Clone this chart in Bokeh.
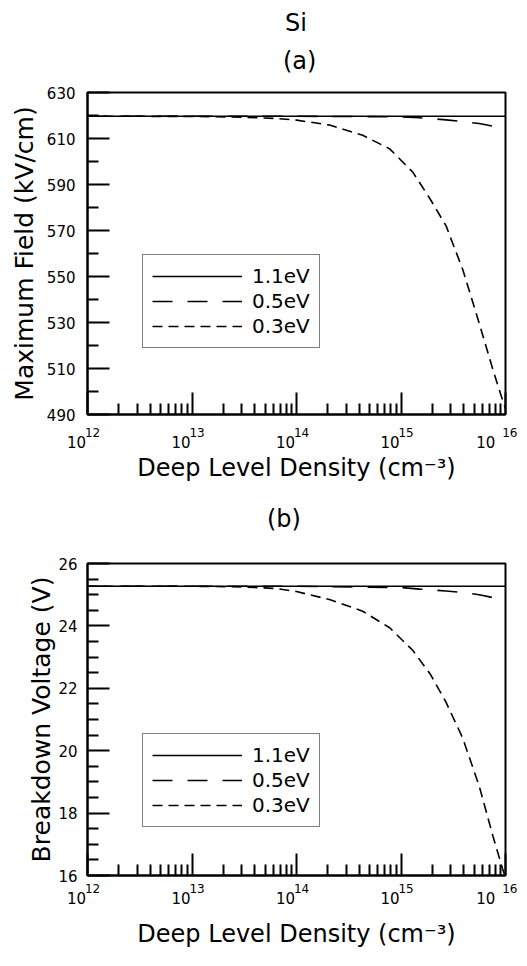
from bokeh.plotting import figure
from bokeh.layouts import column
from bokeh.models import (FixedTicker, Legend, LegendItem, CustomJSTickFormatter,
                          Range1d, LogAxis, Div)
from bokeh.embed import file_html
from bokeh.resources import INLINE

# ---------------- data ----------------
decade_exponents = [12, 13, 14, 15, 16]

density_11 = [1e12, 1e16]
field_11 = [619.7, 619.7]
volt_11 = [25.27, 25.27]

density_05 = [1e12, 1e13, 1e14, 1e15, 1.5e15, 2e15, 2.7e15, 4e15, 5.6e15, 7.5e15, 9e15, 1e16]
field_05 = [619.7, 619.7, 619.7, 619.4, 619.0, 618.6, 618.1, 617.3, 616.5, 615.4, 614.7, 614.3]
volt_05 = [25.27, 25.27, 25.27, 25.23, 25.18, 25.15, 25.12, 25.07, 25.0, 24.91, 24.85, 24.8]

density_03 = [1e12, 1e13, 3e13, 6.4e13, 1e14, 2.1e14, 4.3e14, 7.8e14, 1.3e15, 1.9e15,
              2.7e15, 3.9e15, 5.6e15, 7.6e15, 9.4e15, 1e16]
field_03 = [619.7, 619.6, 619.3, 618.7, 618.0, 615.8, 611.4, 605.5, 595.3, 583.7,
            572.0, 553.0, 529.7, 509.3, 496.1, 492.5]
volt_03 = [25.27, 25.27, 25.25, 25.2, 25.1, 24.84, 24.47, 23.94, 23.21, 22.46,
           21.55, 20.4, 18.87, 17.25, 16.2, 15.95]

field_ticks = [490, 510, 530, 550, 570, 590, 610, 630]
field_minor = [500, 520, 540, 560, 580, 600, 620]
volt_ticks = [16, 18, 20, 22, 24, 26]
volt_minor = [16.5, 17, 17.5, 18.5, 19, 19.5, 20.5, 21, 21.5, 22.5, 23, 23.5, 24.5, 25, 25.5]

series_labels = ["1.1eV", "0.5eV", "0.3eV"]
main_title = "Si"
panel_titles = ["(a)", "(b)"]
x_label = "Deep Level Density (cm\u207b\u00b3)"
y_labels = ["Maximum Field (kV/cm)", "Breakdown Voltage (V)"]

FONT = "DejaVu Sans"
W = 517

# exponent of each decade tick, drawn as a raised label right of the "10"
EXP_JS = r"""return "\u2007\u2009" + String(Math.round(Math.log10(tick)));"""
BASE_JS = r"""return "10\u2007\u2007\u2009";"""

decade_ticks = [float(10 ** e) for e in decade_exponents]
decade_minor = [float(k * 10 ** e) for e in decade_exponents[:-1] for k in range(2, 10)]


def make_panel(height, mb_left, mb_top, mb_bottom, ylo, yhi, yt, ym, ylab,
               v_list, legend_loc, ylab_standoff, ytick_standoff,
               exp_standoff, base_standoff, xlab_standoff):
    p = figure(width=W, height=height, x_axis_type="log",
               x_range=Range1d(1e12, 1e16), y_range=Range1d(ylo, yhi),
               output_backend="svg", toolbar_location=None,
               min_border_left=mb_left, min_border_right=W - mb_left - 421,
               min_border_top=mb_top, min_border_bottom=mb_bottom)
    p.title = None
    p.grid.visible = False
    p.outline_line_color = "black"
    p.outline_line_width = 2
    p.background_fill_color = "white"
    p.border_fill_color = "white"

    # x axis: ticks + exponent labels
    xa = p.xaxis[0]
    xa.ticker = FixedTicker(ticks=decade_ticks, minor_ticks=decade_minor)
    xa.formatter = CustomJSTickFormatter(code=EXP_JS)
    xa.major_label_text_font = FONT
    xa.major_label_text_font_size = "12px"
    xa.major_label_text_color = "black"
    xa.major_label_standoff = exp_standoff
    xa.major_tick_in = 22
    xa.major_tick_out = 0
    xa.minor_tick_in = 11
    xa.minor_tick_out = 0
    xa.major_tick_line_width = 2
    xa.minor_tick_line_width = 2
    xa.axis_line_width = 2

    # second x axis: the "10" of each decade label, plus the axis title
    xb = LogAxis(ticker=FixedTicker(ticks=decade_ticks, minor_ticks=[]),
                 formatter=CustomJSTickFormatter(code=BASE_JS))
    xb.axis_line_color = None
    xb.major_tick_line_color = None
    xb.minor_tick_line_color = None
    xb.major_tick_in = 0
    xb.major_tick_out = 0
    xb.major_label_text_font = FONT
    xb.major_label_text_font_size = "15px"
    xb.major_label_text_color = "black"
    xb.major_label_standoff = base_standoff
    xb.axis_label = x_label
    xb.axis_label_text_font = FONT
    xb.axis_label_text_font_style = "normal"
    xb.axis_label_text_font_size = "24px"
    xb.axis_label_text_color = "black"
    xb.axis_label_standoff = xlab_standoff
    p.add_layout(xb, "below")

    # y axis
    ya = p.yaxis[0]
    ya.ticker = FixedTicker(ticks=yt, minor_ticks=ym)
    ya.major_tick_in = 22
    ya.major_tick_out = 0
    ya.minor_tick_in = 11
    ya.minor_tick_out = 0
    ya.major_tick_line_width = 2
    ya.minor_tick_line_width = 2
    ya.axis_line_width = 2
    ya.major_label_text_font = FONT
    ya.major_label_text_font_size = "15px"
    ya.major_label_text_color = "black"
    ya.major_label_standoff = ytick_standoff
    ya.axis_label = ylab
    ya.axis_label_text_font = FONT
    ya.axis_label_text_font_style = "normal"
    ya.axis_label_text_font_size = "25px"
    ya.axis_label_text_color = "black"
    ya.axis_label_standoff = ylab_standoff

    r03 = p.line(density_03, v_list[2], line_color="black", line_width=1.6, line_dash="10 6")
    r05 = p.line(density_05, v_list[1], line_color="black", line_width=1.6, line_dash="20 15")
    r11 = p.line(density_11, v_list[0], line_color="black", line_width=1.6)

    leg = Legend(items=[LegendItem(label=series_labels[0], renderers=[r11]),
                        LegendItem(label=series_labels[1], renderers=[r05]),
                        LegendItem(label=series_labels[2], renderers=[r03])],
                 location=legend_loc)
    leg.label_text_font = FONT
    leg.label_text_font_size = "20px"
    leg.label_text_color = "black"
    leg.glyph_width = 90
    leg.glyph_height = 20
    leg.label_height = 20
    leg.label_standoff = 10
    leg.spacing = 1
    leg.padding = 9
    leg.margin = 0
    leg.border_line_color = "black"
    leg.border_line_width = 1.5
    leg.background_fill_alpha = 1.0
    p.add_layout(leg, "center")
    return p


LINE = "font-family:'DejaVu Sans';font-size:24px;line-height:32px;color:black;white-space:nowrap;margin:0;"


def title_div(lines, height):
    html = "".join(
        f"<div style=\"{LINE}padding-top:{pt}px;padding-left:{pl}px\">{t}</div>"
        for t, pt, pl in lines)
    return Div(text=html, width=W, height=height, margin=0,
               styles={"font-family": FONT, "font-size": "24px", "color": "black"})


div_top = title_div([(main_title, 7, 285), (panel_titles[0], 6, 283)], 77)
p1 = make_panel(413, 84, 15, 76, 490, 630, field_ticks, field_minor, y_labels[0],
                [field_11, field_05, field_03], (55, 66), 5, 12, 11, -9, -1)

div_b = title_div([(panel_titles[1], 13, 267)], 50)
p2 = make_panel(410, 87, 23, 66, 16, 26, volt_ticks, volt_minor, y_labels[1],
                [volt_11, volt_05, volt_03], (55, 48), -1, 10, 6, -9, 9)

layout = column(div_top, p1, div_b, p2, spacing=0)
open("out.html", "w").write(file_html(layout, INLINE))
